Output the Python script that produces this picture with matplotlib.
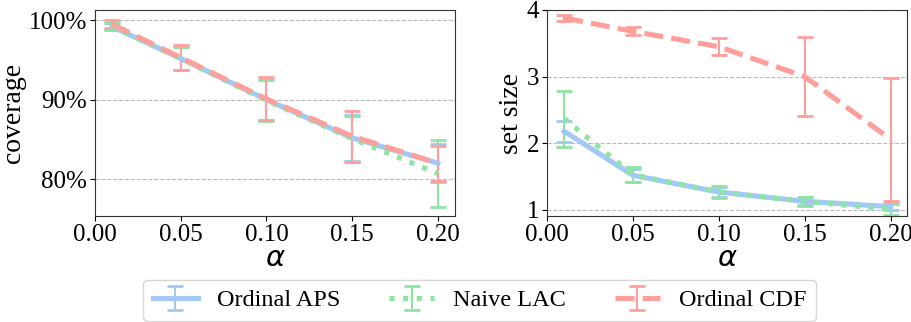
import matplotlib
matplotlib.use("Agg")
import matplotlib.pyplot as plt
import numpy as np
from matplotlib.ticker import PercentFormatter

alphas = [0.01, 0.05, 0.10, 0.15, 0.20]

methods = ["Ordinal APS", "Naive LAC", "Ordinal CDF"]

cov_aps = [99.2, 95.2, 90.0, 85.2, 82.0]
cov_aps_err = [0.4, 1.5, 2.6, 2.9, 2.4]
cov_lac = [99.2, 95.2, 89.9, 85.1, 80.7]
cov_lac_err = [0.4, 1.5, 2.6, 2.9, 4.2]
cov_cdf = [99.5, 95.3, 90.1, 85.4, 82.0]
cov_cdf_err = [0.5, 1.6, 2.7, 3.2, 2.2]

size_aps = [2.18, 1.52, 1.27, 1.13, 1.05]
size_aps_err = [0.16, 0.10, 0.08, 0.06, 0.05]
size_lac = [2.37, 1.53, 1.27, 1.13, 1.01]
size_lac_err = [0.42, 0.11, 0.09, 0.07, 0.08]
size_cdf = [3.88, 3.68, 3.45, 3.00, 2.06]
size_cdf_err = [0.04, 0.06, 0.13, 0.59, 0.92]

colors = ["#a1c9f4", "#8de5a1", "#ff9f9b"]
styles = ["-", ":", "--"]

plt.rcParams["font.family"] = ["Liberation Serif", "DejaVu Serif"]
plt.rcParams["mathtext.fontset"] = "dejavusans"

fig = plt.figure(figsize=(9.12, 3.22), dpi=100)
ax1 = fig.add_axes([95 / 912, 106 / 322, 360 / 912, 206 / 322])
ax2 = fig.add_axes([547 / 912, 106 / 322, 360 / 912, 206 / 322])

cov = [(cov_aps, cov_aps_err), (cov_lac, cov_lac_err), (cov_cdf, cov_cdf_err)]
siz = [(size_aps, size_aps_err), (size_lac, size_lac_err), (size_cdf, size_cdf_err)]

handles = []
for i, name in enumerate(methods):
    h = ax1.errorbar(alphas, cov[i][0], yerr=cov[i][1], color=colors[i],
                     linestyle=styles[i], linewidth=3.7, elinewidth=1.5,
                     capsize=6, capthick=2, label=name)
    ax2.errorbar(alphas, siz[i][0], yerr=siz[i][1], color=colors[i],
                 linestyle=styles[i], linewidth=3.7, elinewidth=1.5,
                 capsize=6, capthick=2, label=name)
    handles.append(h)

ax1.set_xlim(0, 0.21)
ax1.set_ylim(75.35, 101.3)
ax1.set_yticks([80, 90, 100])
ax1.yaxis.set_major_formatter(PercentFormatter(decimals=0))
ax1.set_ylabel("coverage", fontsize=20, labelpad=2)

ax2.set_xlim(0, 0.2095)
ax2.set_ylim(0.91, 4.0)
ax2.set_yticks([1, 2, 3, 4])
ax2.set_ylabel("set size", fontsize=20, labelpad=2)

for ax in (ax1, ax2):
    ax.set_xticks([0.0, 0.05, 0.10, 0.15, 0.20])
    ax.set_xticklabels(["0.00", "0.05", "0.10", "0.15", "0.20"])
    ax.tick_params(labelsize=18, pad=2)
    ax.set_xlabel(r"$\alpha$", fontsize=21, labelpad=0)
    ax.yaxis.grid(True, linestyle="--", color="#b8b8b8", linewidth=0.8)
    ax.set_axisbelow(True)
    for s in ax.spines.values():
        s.set_color("#333333")

fig.legend(handles=handles, labels=methods, loc="lower center",
           bbox_to_anchor=(0.526, -0.035), ncol=3, fontsize=17.5,
           handlelength=1.85, handletextpad=0.8, columnspacing=2.0,
           frameon=True, edgecolor="#cccccc")

fig.savefig("out.png", dpi=100)
